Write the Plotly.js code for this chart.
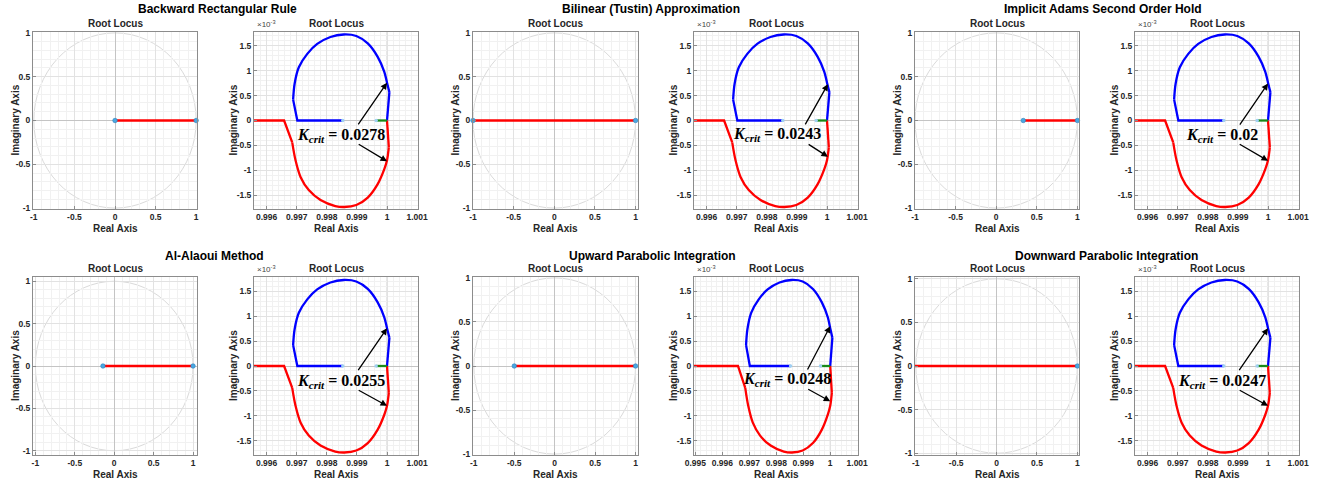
<!DOCTYPE html>
<html><head><meta charset="utf-8">
<script src="https://cdn.plot.ly/plotly-3.0.1.min.js"></script>
<style>html,body{margin:0;padding:0;background:#fff}#chart{width:1319px;height:482px}</style>
</head><body><div id="chart"></div>
<script>
// ---------- data ----------
const methods = ['Backward Rectangular Rule', 'Bilinear (Tustin) Approximation', 'Implicit Adams Second Order Hold',
                 'Al-Alaoui Method', 'Upward Parabolic Integration', 'Downward Parabolic Integration'];
const kCrit = ['0.0278', '0.0243', '0.02', '0.0255', '0.0248', '0.0247'];
// unit-circle view: real-axis red branch from lineStart to 1 ; pole markers
const lineStart = [0, -1, 0.3333, -0.1429, -0.5, -1.1];
const startPole = [0, -1, 0.3333, -0.1429, -0.5, null];
const endPole = [1, 1, 1, 1, 1, 1];
// zoomed view near z = 1 (imaginary part in units of 1e-3)
const blueRe = [0.99853, 0.99702, 0.99688, 0.99693, 0.99707, 0.99735, 0.99768, 0.99812, 0.99856, 0.99898, 0.99936, 0.99969, 0.99991, 1.0, 1.00008, 1.00004, 1.0];
const blueIm = [0, 0, 0.42, 0.74, 1.07, 1.34, 1.54, 1.68, 1.73, 1.70, 1.55, 1.28, 0.98, 0.76, 0.57, 0.2, 0];
const redRe = [0.994, 0.99658, 0.99685, 0.99696, 0.99713, 0.9974, 0.99779, 0.99828, 0.99858, 0.99898, 0.99936, 0.99969, 0.99991, 1.0, 1.00006, 1.0];
const redIm = [0, 0, -0.44, -0.80, -1.14, -1.40, -1.60, -1.72, -1.74, -1.70, -1.55, -1.28, -0.98, -0.80, -0.54, 0];
const greenRe = [0.99964, 1.0];
const greenIm = [0, 0];
const zoomPolesRe = [0.99853, 0.99964];
const zoomPolesIm = [0, 0];
// annotation anchors (real, imag*1e3)
const textX = [0.99847, 0.99835, 0.99846, 0.99847, 0.9984, 0.99847];
const textY = [-0.31, -0.275, -0.31, -0.31, -0.27, -0.31];
const upTailX = [0.99901, 0.99925, 0.99903, 0.99901, 0.99913, 0.99901];
const upTailY = [-0.11, -0.107, -0.114, -0.115, -0.10, -0.115];
const upTipX = [1.0, 1.00003, 1.0, 1.0, 1.0, 1.0];
const upTipY = [0.76, 0.73, 0.745, 0.76, 0.80, 0.76];
const loTailX = [0.99901, 0.99934, 0.99901, 0.99901, 0.99913, 0.99901];
const loTailY = [-0.46, -0.46, -0.46, -0.47, -0.45, -0.47];
const loTipX = [1.0, 1.00003, 1.0, 1.0, 1.0, 1.0];
const loTipY = [-0.82, -0.73, -0.81, -0.80, -0.71, -0.80];
// axis limits
const p1XRange = [[-1.01, 1.01], [-1.0, 1.03], [-1.0, 1.02], [-1.03, 1.05], [-1.01, 1.03], [-1.01, 1.02]];
const p1YRange = [[-1.01, 1.01], [-1.01, 1.01], [-1.01, 1.01], [-1.05, 1.05], [-1.01, 1.01], [-1.02, 1.02]];
const p2XRange = [[0.99558, 1.00103], [0.99558, 1.00103], [0.99558, 1.00103], [0.99558, 1.00103], [0.99495, 1.00103], [0.99558, 1.00103]];
const p2YRange = [[-1.78, 1.78], [-1.78, 1.78], [-1.78, 1.78], [-1.79, 1.79], [-1.79, 1.79], [-1.79, 1.79]];
const p1Ticks = [-1, -0.5, 0, 0.5, 1];
const p1TickText = ['-1', '-0.5', '0', '0.5', '1'];
const p2XTicks = [0.995, 0.996, 0.997, 0.998, 0.999, 1.0, 1.001];
const p2XTickText = ['0.995', '0.996', '0.997', '0.998', '0.999', '1', '1.001'];
const p2YTicks = [-1.5, -1, -0.5, 0, 0.5, 1, 1.5];
const p2YTickText = ['-1.5', '-1', '-0.5', '0', '0.5', '1', '1.5'];

// ---------- layout geometry (pixels) ----------
const W = 1319, H = 482;
const colP1 = [[33, 197], [473, 638], [915, 1079]];
const colP2 = [[254, 418], [694, 858], [1135, 1299]];
const rowY = [[32, 209], [277, 455]];
const superX = [[218, 651, 1103], [215, 652, 1106]];
const superY = [9, 256];

const BLUE = '#0000ff', RED = '#ff0000', GREEN = '#1a8a1a', POLE = '#4aa8e0';
const tickFont = {family: 'Liberation Sans, Arial, sans-serif', size: 8.5, color: '#262626', weight: 'bold'};
const labFont = {family: 'Liberation Sans, Arial, sans-serif', size: 10, color: '#262626', weight: 'bold'};

const id = (p, n) => n === 1 ? p : p + n;
const key = (p, n) => n === 1 ? p + 'axis' : p + 'axis' + n;

const traces = [];
const layout = {
  width: W, height: H, margin: {l: 0, r: 0, t: 0, b: 0}, showlegend: false,
  paper_bgcolor: '#fff', plot_bgcolor: '#fff', annotations: [], shapes: []
};

function axisBase(dom, range, tv, tt, minorDt) {
  return {
    domain: dom, range: range, tickmode: 'array', tickvals: tv, ticktext: tt,
    showgrid: true, gridcolor: '#e2e2e2', gridwidth: 1,
    minor: {dtick: minorDt, showgrid: true, gridcolor: '#f1f1f1', gridwidth: 1},
    showline: true, mirror: true, linecolor: '#8c8c8c', linewidth: 1,
    ticks: 'inside', ticklen: 3, tickcolor: '#8c8c8c', tickfont: tickFont,
    zeroline: false, fixedrange: true
  };
}

// piecewise: straight real-axis parts, smooth complex arc
function addBranch(xs, ys, cutA, cutB, color, xa, ya) {
  const parts = [[0, cutA, 'linear'], [cutA, cutB, 'spline'], [cutB, xs.length - 1, 'linear']];
  parts.forEach(p => {
    traces.push({type: 'scatter', mode: 'lines', x: xs.slice(p[0], p[1] + 1), y: ys.slice(p[0], p[1] + 1),
      xaxis: xa, yaxis: ya, line: {color: color, width: 2.3, shape: p[2], smoothing: 0.9}, hoverinfo: 'skip'});
  });
}

for (let i = 0; i < 6; i++) {
  const r = Math.floor(i / 3), g = i % 3;
  const n1 = 2 * i + 1, n2 = 2 * i + 2;
  const yDom = [1 - rowY[r][1] / H, 1 - rowY[r][0] / H];
  const x1Dom = [colP1[g][0] / W, colP1[g][1] / W];
  const x2Dom = [colP2[g][0] / W, colP2[g][1] / W];

  const ax1 = axisBase(x1Dom, p1XRange[i], p1Ticks, p1TickText, 0.1);
  ax1.anchor = id('y', n1); ax1.zeroline = true; ax1.zerolinecolor = '#c4c4c4'; ax1.zerolinewidth = 1;
  const ay1 = axisBase(yDom, p1YRange[i], p1Ticks, p1TickText, 0.1);
  ay1.anchor = id('x', n1); ay1.zeroline = true; ay1.zerolinecolor = '#c4c4c4'; ay1.zerolinewidth = 1;
  const ax2 = axisBase(x2Dom, p2XRange[i], p2XTicks, p2XTickText, 0.0002);
  ax2.anchor = id('y', n2);
  const ay2 = axisBase(yDom, p2YRange[i], p2YTicks, p2YTickText, 0.1);
  ay2.anchor = id('x', n2); ay2.zeroline = true; ay2.zerolinecolor = '#c4c4c4'; ay2.zerolinewidth = 1;
  layout[key('x', n1)] = ax1; layout[key('y', n1)] = ay1;
  layout[key('x', n2)] = ax2; layout[key('y', n2)] = ay2;

  layout.shapes.push({type: 'circle', xref: id('x', n1), yref: id('y', n1), x0: -1, x1: 1, y0: -1, y1: 1,
    line: {color: '#dadada', width: 1}, layer: 'below'});
  layout.shapes.push({type: 'line', xref: id('x', n2), yref: 'paper', x0: 1, x1: 1, y0: yDom[0], y1: yDom[1],
    line: {color: '#cfcfcf', width: 1}, layer: 'below'});

  // P1 traces
  traces.push({type: 'scatter', mode: 'lines', x: [lineStart[i], endPole[i]], y: [0, 0],
    xaxis: id('x', n1), yaxis: id('y', n1), line: {color: RED, width: 2.3}, hoverinfo: 'skip'});
  const px = [], py = [];
  if (startPole[i] !== null) { px.push(startPole[i]); py.push(0); }
  px.push(endPole[i]); py.push(0);
  traces.push({type: 'scatter', mode: 'markers', x: px, y: py, xaxis: id('x', n1), yaxis: id('y', n1),
    marker: {color: POLE, size: 4.5, line: {color: '#2b7fc0', width: 0.6}}, hoverinfo: 'skip', cliponaxis: false});

  // P2 traces
  const xa = id('x', n2), ya = id('y', n2);
  addBranch(blueRe, blueIm, 2, 14, BLUE, xa, ya);
  addBranch(redRe, redIm, 2, 14, RED, xa, ya);
  traces.push({type: 'scatter', mode: 'lines', x: greenRe, y: greenIm, xaxis: xa, yaxis: ya,
    line: {color: GREEN, width: 2.3}, hoverinfo: 'skip'});
  traces.push({type: 'scatter', mode: 'markers', x: zoomPolesRe, y: zoomPolesIm, xaxis: xa, yaxis: ya,
    marker: {color: '#9fd0f2', size: 3.5}, hoverinfo: 'skip'});

  layout.annotations.push({x: textX[i], y: textY[i], xref: xa, yref: ya, showarrow: false,
    text: '<b><i>K</i></b><sub><b><i>crit</i></b></sub><b> = ' + kCrit[i] + '</b>',
    font: {family: 'Liberation Serif, DejaVu Serif, serif', size: 16, color: '#000'}});
  layout.annotations.push({x: upTipX[i], y: upTipY[i], ax: upTailX[i], ay: upTailY[i], xref: xa, yref: ya,
    axref: xa, ayref: ya, text: '', showarrow: true, arrowhead: 2, arrowsize: 1, arrowwidth: 1.3, arrowcolor: '#000'});
  layout.annotations.push({x: loTipX[i], y: loTipY[i], ax: loTailX[i], ay: loTailY[i], xref: xa, yref: ya,
    axref: xa, ayref: ya, text: '', showarrow: true, arrowhead: 2, arrowsize: 1, arrowwidth: 1.3, arrowcolor: '#000'});

  const topPx = rowY[r][0], botPx = rowY[r][1], midPx = (topPx + botPx) / 2;
  const pyf = p => 1 - p / H, pxf = p => p / W;
  [colP1[g], colP2[g]].forEach(c => {
    layout.annotations.push({xref: 'paper', yref: 'paper', x: pxf((c[0] + c[1]) / 2), y: pyf(topPx - 9),
      xanchor: 'center', yanchor: 'middle', text: 'Root Locus', showarrow: false, font: labFont});
    layout.annotations.push({xref: 'paper', yref: 'paper', x: pxf((c[0] + c[1]) / 2), y: pyf(botPx + 19),
      xanchor: 'center', yanchor: 'middle', text: 'Real Axis', showarrow: false, font: labFont});
  });
  layout.annotations.push({xref: 'paper', yref: 'paper', x: pxf(colP1[g][0] - 18), y: pyf(midPx),
    xanchor: 'center', yanchor: 'middle', text: 'Imaginary Axis', textangle: -90, showarrow: false, font: labFont});
  layout.annotations.push({xref: 'paper', yref: 'paper', x: pxf(colP2[g][0] - 21), y: pyf(midPx),
    xanchor: 'center', yanchor: 'middle', text: 'Imaginary Axis', textangle: -90, showarrow: false, font: labFont});
  layout.annotations.push({xref: 'paper', yref: 'paper', x: pxf(colP2[g][0] + 1), y: pyf(topPx - 1),
    xanchor: 'left', yanchor: 'bottom', text: '\u00d710<sup>-3</sup>', showarrow: false,
    font: {family: 'Liberation Sans, Arial, sans-serif', size: 8, color: '#444'}});
  layout.annotations.push({xref: 'paper', yref: 'paper', x: pxf(superX[r][g]), y: pyf(superY[r]),
    xanchor: 'center', yanchor: 'middle', text: methods[i], showarrow: false,
    font: {family: 'Liberation Sans, Arial, sans-serif', size: 12, color: '#000', weight: 'bold'}});
}

Plotly.newPlot('chart', traces, layout, {staticPlot: true, displayModeBar: false});
</script></body></html>
